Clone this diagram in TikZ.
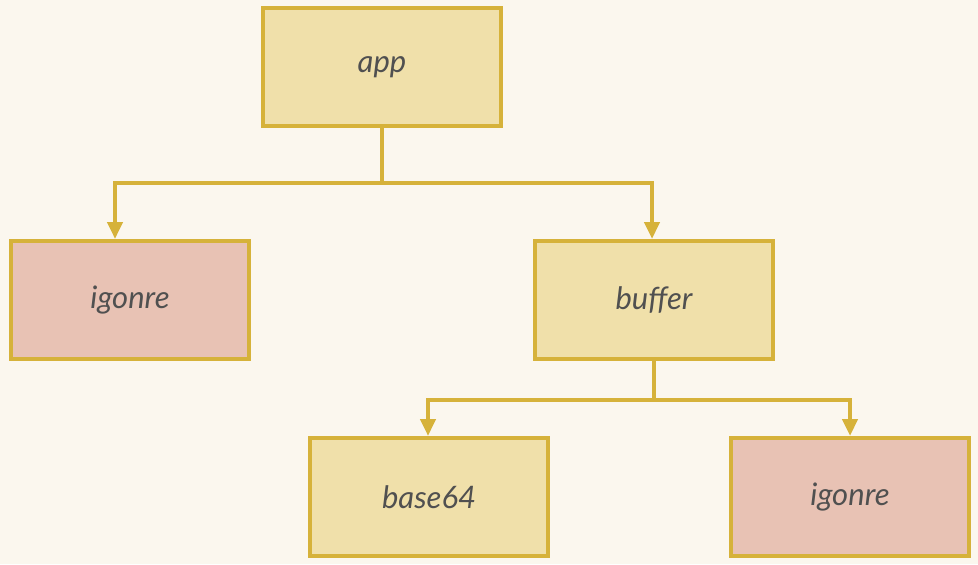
\documentclass[tikz,border=0pt]{standalone}
\usepackage{fontspec}
\setmainfont{Lato}
\usepackage{tikz}
\usetikzlibrary{arrows.meta}

\definecolor{paper}{RGB}{251,247,238}
\definecolor{edge}{RGB}{214,178,58}
\definecolor{keep}{RGB}{240,224,170}
\definecolor{skip}{RGB}{232,194,180}
\definecolor{ink}{RGB}{80,80,80}

\tikzset{
  pkg/.style={draw=edge, line width=2pt, minimum width=119pt, minimum height=59pt,
    text=ink, font=\itshape\fontsize{15.5}{18}\selectfont},
  used/.style={pkg, fill=keep},
  dropped/.style={pkg, fill=skip},
  wire/.style={draw=edge, line width=2.2pt},
  feed/.style={wire, -{Triangle[length=8.5pt,width=7.5pt]}}
}

\begin{document}
\begin{tikzpicture}[x=0.5pt, y=-0.5pt]
    \fill[paper] (0,0) rectangle (978,564);
    \useasboundingbox (0,0) rectangle (978,564);
    \node[used]    (app)    at (382,67)  {app};
    \node[dropped] (skipA)  at (130,300) {igonre};
    \node[used]    (buffer) at (654,300) {buffer};
    \node[used]    (base)   at (429,497) {base64};
    \node[dropped] (skipB)  at (850,497) {igonre};
    % first level
    \coordinate (barA) at (382,183);
    \draw[wire] (app.south) -- (barA);
    \draw[feed] (barA) -| ([xshift=-7.5pt]skipA.north);
    \draw[feed] (barA) -| ([xshift=-1pt]buffer.north);
    % second level
    \coordinate (barB) at (654,400);
    \draw[wire] (buffer.south) -- (barB);
    \draw[feed] (barB) -| ([xshift=-0.5pt]base.north);
    \draw[feed] (barB) -| (skipB.north);
\end{tikzpicture}
\end{document}
